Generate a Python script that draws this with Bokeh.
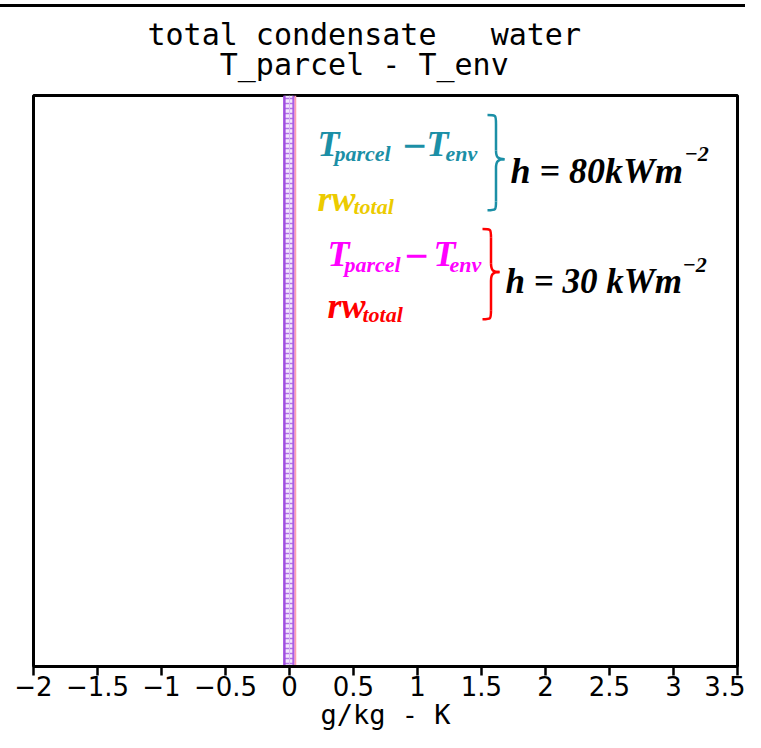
from bokeh.plotting import figure
from bokeh.models import Range1d, Label, FixedTicker
from bokeh.embed import file_html
from bokeh.resources import INLINE

# ---------------- data ----------------
x_ticks = [-2, -1.5, -1, -0.5, 0, 0.5, 1, 1.5, 2, 2.5, 3, 3.5]
x_tick_labels = ["\u22122", "\u22121.5", "\u22121", "\u22120.5", "0", "0.5",
                 "1", "1.5", "2", "2.5", "3", "3.5"]
levels = [0, 2, 4, 6, 8, 10, 12, 14, 16, 18, 20]
t_diff_30 = [-0.04, -0.04, -0.04, -0.04, -0.04, -0.04, -0.04, -0.04, -0.04, -0.04, -0.04]
t_diff_80 = [0.03, 0.03, 0.03, 0.03, 0.03, 0.03, 0.03, 0.03, 0.03, 0.03, 0.03]
rw_total_30 = [0.045, 0.045, 0.045, 0.045, 0.045, 0.045, 0.045, 0.045, 0.045, 0.045, 0.045]
rw_total_80 = [0.0, 0.0, 0.0, 0.0, 0.0, 0.0, 0.0, 0.0, 0.0, 0.0, 0.0]

NB = "\u00a0"
title_line1 = "total" + NB + "condensate" + NB * 3 + "water"
title_line2 = "T_parcel" + NB + "-" + NB + "T_env"
x_label = "g/kg" + NB + "-" + NB + "K"

# ---------------- figure ----------------
XMIN, XMAX, YMIN, YMAX = -2, 3.5, 0, 20

p = figure(width=745, height=732,
           x_range=Range1d(XMIN, XMAX), y_range=Range1d(YMIN, YMAX),
           output_backend="svg", toolbar_location=None, y_axis_location=None,
           min_border_left=33, min_border_right=8, min_border_top=90,
           min_border_bottom=60, background_fill_color="white",
           border_fill_color=None)
p.styles = {"background": "linear-gradient(to bottom, white 0px, white 4px, "
                          "black 4px, black 7px, white 7px, white 100%)"}

p.title.text = title_line1 + "\n" + NB * 4 + title_line2
p.title.align = "left"
p.title.offset = 114
p.title.text_font = "DejaVu Sans Mono"
p.title.text_font_size = "30px"
p.title.text_font_style = "normal"
p.title.text_color = "black"
p.title.text_line_height = 0.85
p.title.standoff = 28

p.grid.visible = False
p.outline_line_color = "black"
p.outline_line_width = 3
p.outline_line_alpha = 1

ax = p.xaxis[0]
ax.ticker = FixedTicker(ticks=x_ticks)
ax.major_label_overrides = {float(k): v for k, v in zip(x_ticks, x_tick_labels)}
ax.axis_line_width = 3
ax.axis_line_color = "black"
ax.major_tick_line_width = 2.5
ax.major_tick_line_color = "black"
ax.major_tick_out = 9
ax.major_tick_in = 0
ax.minor_tick_line_color = None
ax.major_label_text_font = "DejaVu Sans"
ax.major_label_text_font_size = "26px"
ax.major_label_text_color = "black"
ax.major_label_standoff = 0
ax.axis_label = x_label
ax.axis_label_text_font = "DejaVu Sans Mono"
ax.axis_label_text_font_size = "27px"
ax.axis_label_text_font_style = "normal"
ax.axis_label_text_color = "black"
ax.axis_label_standoff = 0

# ---------------- profiles near zero ----------------
p.harea(x1=t_diff_30, x2=t_diff_80, y=levels, fill_color="#f3e8fd",
        hatch_pattern="horizontal_line", hatch_color="#b273ea",
        hatch_scale=5, hatch_weight=1.5)
p.line(rw_total_80, levels, line_color="#d9b8f5", line_width=1)
p.line(rw_total_30, levels, line_color="#ff9fb0", line_width=2)
p.line(t_diff_80, levels, line_color="#a85fe6", line_width=2)
p.line(t_diff_30, levels, line_color="#a04ee0", line_width=2.5)

# ---------------- legend annotations ----------------
# helpers converting reference pixel positions (frame spans 33..737 x, 90..672 y)
def X(px):
    return XMIN + (px - 33) / 704 * (XMAX - XMIN)

def Y(py):
    return YMIN + (672 - py) / 582 * (YMAX - YMIN)

TEAL, GOLD, MAG, RED = "#1b8fa6", "#eccb00", "#ff00ff", "#ff0000"
legend_items = [
    ("T", 317, 139, 36, TEAL), ("parcel", 334, 149, 22, TEAL),
    ("\u2212", 401, 141, 42, TEAL), ("T", 426, 139, 36, TEAL),
    ("env", 445, 149, 22, TEAL),
    ("rw", 317, 195, 36, GOLD), ("total", 353, 203, 22, GOLD),
    ("h = 80kWm", 510, 167, 36, "black"), ("\u22122", 684, 150, 22, "black"),
    ("T", 327, 252, 36, MAG), ("parcel", 344, 262, 22, MAG),
    ("\u2212", 403, 254, 42, MAG), ("T", 433, 252, 36, MAG),
    ("env", 449, 262, 22, MAG),
    ("rw", 327, 305, 36, RED), ("total", 362, 313, 22, RED),
    ("h = 30 kWm", 505, 280, 35, "black"), ("\u22122", 682, 263, 22, "black"),
]
for txt, px, py, size, col in legend_items:
    p.add_layout(Label(x=X(px), y=Y(py), text=txt, text_font="Liberation Serif",
                       text_font_size=f"{size}px", text_font_style="bold italic",
                       text_color=col, text_baseline="alphabetic", text_align="left"))

def brace(x0, ytop, ybot, ymid, w, col):
    xm = x0 + w / 2
    x1 = x0 + w
    r = 9
    segs = [
        ((x0, ytop), (xm, ytop + r), (xm, ytop), (xm, ytop)),
        ((xm, ytop + r), (xm, ymid - r), (xm, ytop + r), (xm, ymid - r)),
        ((xm, ymid - r), (x1, ymid), (xm, ymid - 2), (xm + 2, ymid)),
        ((x1, ymid), (xm, ymid + r), (xm + 2, ymid), (xm, ymid + 2)),
        ((xm, ymid + r), (xm, ybot - r), (xm, ymid + r), (xm, ybot - r)),
        ((xm, ybot - r), (x0, ybot), (xm, ybot), (xm, ybot)),
    ]
    p.bezier(x0=[X(s[0][0]) for s in segs], y0=[Y(s[0][1]) for s in segs],
             x1=[X(s[1][0]) for s in segs], y1=[Y(s[1][1]) for s in segs],
             cx0=[X(s[2][0]) for s in segs], cy0=[Y(s[2][1]) for s in segs],
             cx1=[X(s[3][0]) for s in segs], cy1=[Y(s[3][1]) for s in segs],
             line_color=col, line_width=2.5)

brace(487, 110, 207, 155, 17, TEAL)
brace(482, 226, 318, 270, 17, RED)

open("out.html", "w").write(file_html(p, INLINE))
